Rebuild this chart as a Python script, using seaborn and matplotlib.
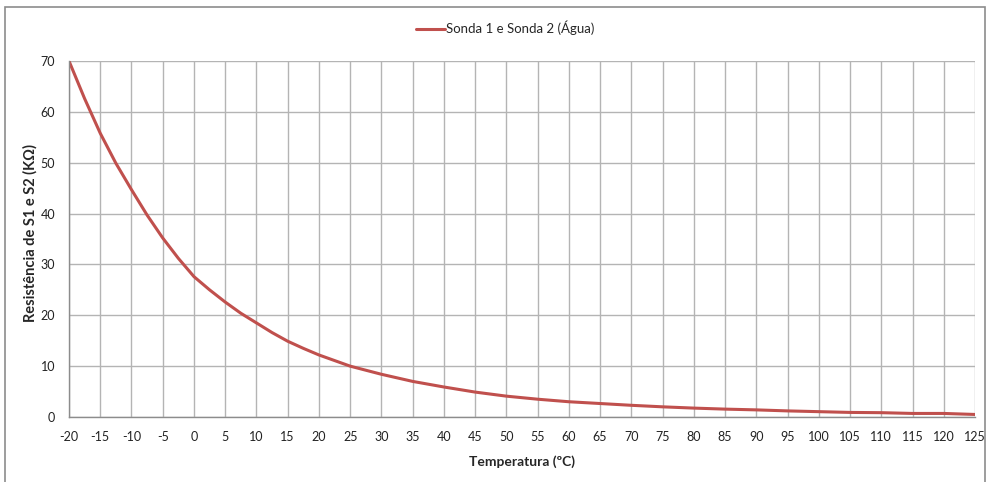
import matplotlib
matplotlib.use("Agg")
import matplotlib.pyplot as plt
import seaborn as sns
import pandas as pd
from matplotlib.patches import Rectangle

temperatura = [-20, -17.5, -15, -12.5, -10, -7.5, -5, -2.5, 0, 2.5, 5, 7.5, 10, 12.5,
               15, 17.5, 20, 25, 30, 35, 40, 45, 50, 55, 60,
               65, 70, 75, 80, 85, 90, 95, 100, 105, 110, 115, 120, 125]
resistencia = [70.0, 62.6, 55.8, 49.9, 44.7, 39.7, 35.2, 31.2, 27.6, 25.0, 22.6, 20.4,
               18.5, 16.6, 14.9, 13.5, 12.2, 10.0, 8.4, 7.0,
               5.9, 4.9, 4.1, 3.5, 3.0, 2.65, 2.3, 2.0, 1.75, 1.55, 1.4, 1.2, 1.05,
               0.9, 0.85, 0.7, 0.7, 0.5]
serie = "Sonda 1 e Sonda 2 (Água)"
x_ticks = list(range(-20, 126, 5))
y_ticks = list(range(0, 71, 10))

df = pd.DataFrame({"Temperatura": temperatura, "Resistencia": resistencia, "Serie": serie})

sns.set_style("white")
plt.rcParams["font.family"] = ["Lato", "DejaVu Sans"]

fig = plt.figure(figsize=(9.89, 4.82), dpi=100)
ax = fig.add_axes([69/989, 1-417/482, (975-69)/989, (417-61)/482])

sns.lineplot(data=df, x="Temperatura", y="Resistencia", hue="Serie",
             palette=["#C0504D"], linewidth=2.2, ax=ax, legend=True)

ax.set_xlim(-20, 125)
ax.set_ylim(0, 70)
ax.set_xticks(x_ticks)
ax.set_yticks(y_ticks)
ax.set_xticklabels([str(t) for t in x_ticks], fontsize=9, color="#222222")
ax.set_yticklabels([str(t) for t in y_ticks], fontsize=9, color="#222222")
ax.grid(True, color="#b4b4b4", linewidth=1.0)
ax.set_axisbelow(True)
for s in ["top", "right"]:
    ax.spines[s].set_visible(False)
for s in ["left", "bottom"]:
    ax.spines[s].set_color("#8c8c8c")
    ax.spines[s].set_linewidth(1.0)
ax.tick_params(axis="both", direction="out", length=4, width=1, color="#8c8c8c", pad=6)
ax.set_xlabel("Temperatura (ºC)", fontsize=10, fontweight="bold", labelpad=9)
ax.set_ylabel("Resistência de S1 e S2 (KΩ)", fontsize=10.5, fontweight="bold")
ax.yaxis.set_label_coords(-31/906, (417-233)/356)

leg = ax.legend(loc="center", bbox_to_anchor=(505/989, 1-28/482),
                bbox_transform=fig.transFigure, frameon=False, fontsize=9.5,
                handlelength=2.2, handletextpad=0.1)
for h in leg.get_lines():
    h.set_linewidth(2.2)

fig.patches.append(Rectangle((5/989, -0.01), (985-5)/989, 1-7/482+0.01,
                             transform=fig.transFigure, fill=False,
                             edgecolor="#8c8c8c", linewidth=1.2))

fig.savefig("out.png", dpi=100, facecolor="white")
